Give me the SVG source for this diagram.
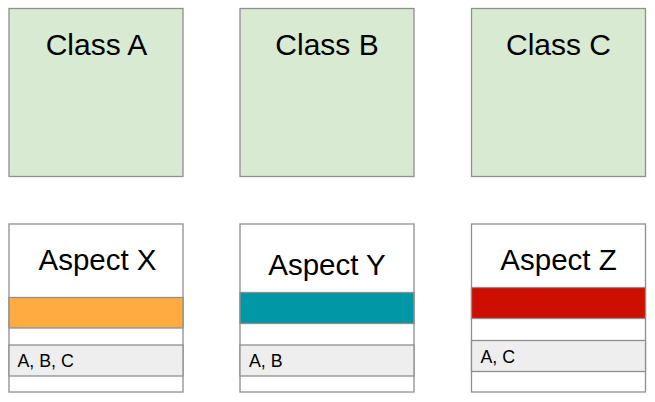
<svg xmlns="http://www.w3.org/2000/svg" width="655" height="402" viewBox="0 0 655 402">
<style>
.cls{fill:#d9ead3;stroke:#8f8f8f;stroke-width:1.3}
.box{fill:#ffffff;stroke:#8f8f8f;stroke-width:1.3}
.band{stroke:#8f8f8f;stroke-width:1.3}
.gray{fill:#eeeeee;stroke:#8f8f8f;stroke-width:1.3}
.t1{font-family:"Liberation Sans",Arial,sans-serif;font-size:30px;fill:#000;text-anchor:middle}
.t2{font-family:"Liberation Sans",Arial,sans-serif;font-size:29.5px;fill:#000;text-anchor:middle}
.t3{font-family:"Liberation Sans",Arial,sans-serif;font-size:17.8px;fill:#000}
</style>
<rect width="655" height="402" fill="#ffffff"/>
<g id="classA">
<rect class="cls" x="9" y="8.5" width="174" height="168"/>
<text class="t1" x="96.5" y="54.5">Class A</text>
</g>
<g id="classB">
<rect class="cls" x="240" y="8.5" width="174" height="168"/>
<text class="t1" x="327" y="54.5">Class B</text>
</g>
<g id="classC">
<rect class="cls" x="471.5" y="8.5" width="174" height="168"/>
<text class="t1" x="558.5" y="54.5">Class C</text>
</g>
<g id="aspectX">
<rect class="box" x="9" y="224" width="174" height="168"/>
<text class="t2" x="97.5" y="270">Aspect X</text>
<rect class="band" fill="#ffab40" x="9" y="297.5" width="174" height="30.5"/>
<rect class="gray" x="9" y="345" width="174" height="31"/>
<text class="t3" x="17.5" y="367">A, B, C</text>
</g>
<g id="aspectY">
<rect class="box" x="240" y="224" width="174" height="168"/>
<text class="t2" x="327" y="275">Aspect Y</text>
<rect class="band" fill="#0097a7" x="240" y="292.5" width="174" height="31"/>
<rect class="gray" x="240" y="345" width="174" height="31"/>
<text class="t3" x="249" y="367">A, B</text>
</g>
<g id="aspectZ">
<rect class="box" x="471.5" y="224" width="174" height="168"/>
<text class="t2" x="558.5" y="270">Aspect Z</text>
<rect class="band" fill="#cc0f00" x="471.5" y="287.5" width="174" height="31"/>
<rect class="gray" x="471.5" y="340.5" width="174" height="31"/>
<text class="t3" x="480.5" y="362.5">A, C</text>
</g>
<g id="connectors"></g>
</svg>
